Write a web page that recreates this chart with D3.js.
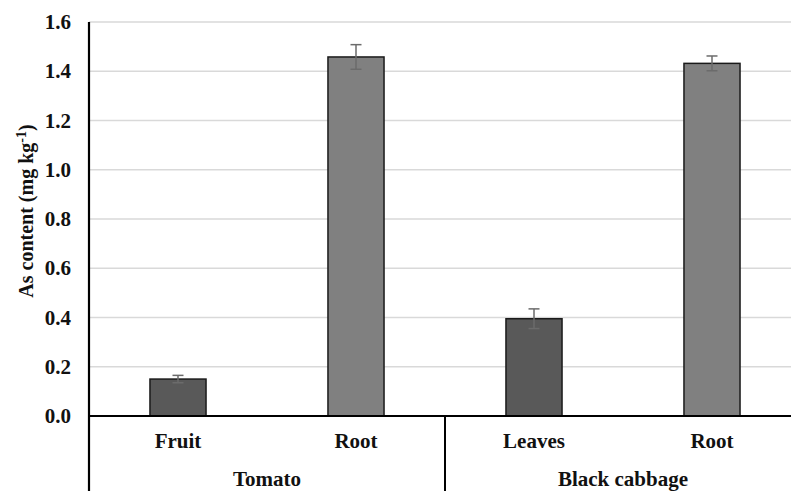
<!DOCTYPE html>
<html>
<head>
<meta charset="utf-8">
<style>
  body { margin: 0; background: #fff; }
  text { font-family: "Liberation Serif", "Times New Roman", serif; font-weight: bold; fill: #111; }
</style>
</head>
<body>
<div id="chart"></div>
<script src="https://d3js.org/d3.v7.min.js"></script>
<script>
var categories = ["Fruit", "Root", "Leaves", "Root"];
var groups = ["Tomato", "Black cabbage"];
var values = [0.15, 1.458, 0.395, 1.432];
var errors = [0.015, 0.05, 0.04, 0.03];
var yTicks = [0, 0.2, 0.4, 0.6, 0.8, 1.0, 1.2, 1.4, 1.6];

(function () {
     var w = 791, h = 491;
     var left = 89, right = 801, plotTop = 22, base = 416;
     var barColors = ["#595959", "#808080"];

     var svg = d3.select("#chart").append("svg").attr("width", w).attr("height", h);

     var x = d3.scaleBand().domain(d3.range(categories.length)).range([left, right])
          .paddingInner(0.685).paddingOuter(0.3425);
     var step = x.step();
     var y = d3.scaleLinear().domain([0, 1.6]).range([base, plotTop]);

     // gridlines
     svg.selectAll("line.grid").data(yTicks.slice(1)).enter().append("line")
          .attr("x1", left).attr("x2", right)
          .attr("y1", function (d) { return y(d); })
          .attr("y2", function (d) { return y(d); })
          .attr("stroke", "#d9d9d9").attr("stroke-width", 1.5);

     // tick labels
     svg.selectAll("text.tick").data(yTicks).enter().append("text")
          .attr("x", 71)
          .attr("y", function (d) { return y(d) + 7; })
          .attr("text-anchor", "end")
          .attr("font-size", 21)
          .text(function (d) { return d.toFixed(1); });

     // bars
     svg.selectAll("rect.bar").data(values).enter().append("rect")
          .attr("x", function (d, i) { return x(i); })
          .attr("y", function (d) { return y(d); })
          .attr("width", x.bandwidth())
          .attr("height", function (d) { return base - y(d); })
          .attr("fill", function (d, i) { return barColors[i % 2]; })
          .attr("stroke", "#1a1a1a").attr("stroke-width", 1.5);

     // error bars
     var eb = svg.selectAll("g.err").data(values).enter().append("g")
          .attr("stroke", "#6b6b6b").attr("stroke-width", 1.5);
     eb.append("line")
          .attr("x1", function (d, i) { return x(i) + x.bandwidth() / 2; })
          .attr("x2", function (d, i) { return x(i) + x.bandwidth() / 2; })
          .attr("y1", function (d, i) { return y(d - errors[i]); })
          .attr("y2", function (d, i) { return y(d + errors[i]); });
     eb.append("line")
          .attr("x1", function (d, i) { return x(i) + x.bandwidth() / 2 - 5.5; })
          .attr("x2", function (d, i) { return x(i) + x.bandwidth() / 2 + 5.5; })
          .attr("y1", function (d, i) { return y(d + errors[i]); })
          .attr("y2", function (d, i) { return y(d + errors[i]); });
     eb.append("line")
          .attr("x1", function (d, i) { return x(i) + x.bandwidth() / 2 - 5.5; })
          .attr("x2", function (d, i) { return x(i) + x.bandwidth() / 2 + 5.5; })
          .attr("y1", function (d, i) { return y(d - errors[i]); })
          .attr("y2", function (d, i) { return y(d - errors[i]); });

     // axes lines
     svg.append("line").attr("x1", left).attr("x2", left).attr("y1", plotTop).attr("y2", h)
          .attr("stroke", "#000").attr("stroke-width", 2.2);
     svg.append("line").attr("x1", left).attr("x2", right).attr("y1", base).attr("y2", base)
          .attr("stroke", "#000").attr("stroke-width", 2.2);
     // group separator
     svg.append("line").attr("x1", left + step * 2).attr("x2", left + step * 2)
          .attr("y1", base).attr("y2", h)
          .attr("stroke", "#000").attr("stroke-width", 2);

     // category labels
     svg.selectAll("text.cat").data(categories).enter().append("text")
          .attr("x", function (d, i) { return x(i) + x.bandwidth() / 2; })
          .attr("y", 448)
          .attr("text-anchor", "middle")
          .attr("font-size", 21)
          .text(function (d) { return d; });

     // group labels
     svg.selectAll("text.grp").data(groups).enter().append("text")
          .attr("x", function (d, i) { return left + step * 2 * i + step; })
          .attr("y", 486)
          .attr("text-anchor", "middle")
          .attr("font-size", 21)
          .text(function (d) { return d; });

     // y axis title
     var yt = svg.append("text")
          .attr("transform", "translate(33,211) rotate(-90)")
          .attr("text-anchor", "middle")
          .attr("font-size", 20);
     yt.append("tspan").text("As content  (mg kg");
     yt.append("tspan").attr("dy", -7).attr("font-size", 14).text("-1");
     yt.append("tspan").attr("dy", 7).text(")");
})();
</script>
</body>
</html>
